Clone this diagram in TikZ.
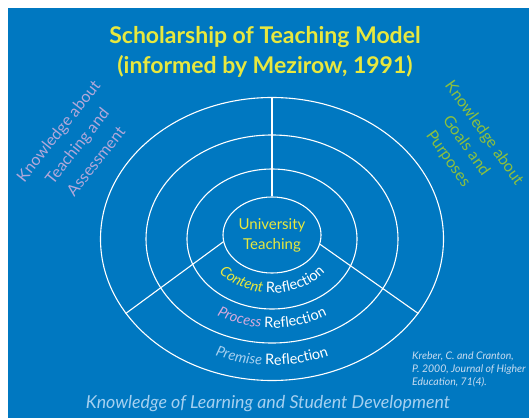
\documentclass[tikz,border=0pt]{standalone}
\usepackage{fontspec}
\setmainfont{Lato}
\usetikzlibrary{shapes.geometric,decorations.text}
\definecolor{slideblue}{RGB}{0,120,193}
\definecolor{titleyellow}{RGB}{232,232,62}
\definecolor{lilac}{RGB}{178,168,218}
\definecolor{leafgreen}{RGB}{140,192,62}
\definecolor{paleblue}{RGB}{165,208,240}
\definecolor{citegray}{RGB}{200,220,240}
\definecolor{processpink}{RGB}{215,170,220}
\tikzset{
  ring/.style={ellipse, draw=white, line width=1.1pt, inner sep=0pt},
  spoke/.style={draw=white, line width=1.1pt}
}

\begin{document}
\begin{tikzpicture}[x=1pt,y=1pt]
\useasboundingbox (0,0) rectangle (529,418);
\fill[slideblue] (8,0) rectangle (529,410);
\node[ring, minimum width=343pt, minimum height=283pt] (premisering) at (272,179) {};
\node[ring, minimum width=252pt, minimum height=208pt] (processring) at (272,179) {};
\node[ring, minimum width=170pt, minimum height=140pt] (contentring) at (272,179) {};
\node[ring, minimum width=98pt, minimum height=76pt] (core) at (272,183) {};
\draw[spoke] (core.90) -- (premisering.90);
\draw[spoke] (core.188) -- (premisering.207);
\draw[spoke] (core.349) -- (premisering.333);
\node[text=titleyellow, align=center, font=\fontsize{15}{20}\selectfont] (coretext) at (272,183) {University\\Teaching};
\path[decorate, decoration={text along path, text align=center,
  text={|\fontsize{14.5}{14.5}\selectfont\itshape\color{titleyellow}|Content |\fontsize{14.5}{14.5}\selectfont\color{white}|Reflection}}]
  (272,179) ++(200:67 and 54) arc[start angle=200, end angle=340, x radius=67, y radius=54];
\path[decorate, decoration={text along path, text align=center,
  text={|\fontsize{14.5}{14.5}\selectfont\itshape\color{processpink}|Process |\fontsize{14.5}{14.5}\selectfont\color{white}|Reflection}}]
  (272,179) ++(210:108 and 89) arc[start angle=210, end angle=330, x radius=108, y radius=89];
\path[decorate, decoration={text along path, text align=center,
  text={|\fontsize{14.5}{14.5}\selectfont\itshape\color{paleblue}|Premise |\fontsize{14.5}{14.5}\selectfont\color{white}|Reflection}}]
  (272,179) ++(220:149 and 126) arc[start angle=220, end angle=320, x radius=149, y radius=126];
\node[text=titleyellow, align=center, font=\bfseries\fontsize{23}{30.5}\selectfont] (title) at (265,366) {Scholarship of Teaching Model\\(informed by Mezirow, 1991)};
\node[text=lilac, align=center, rotate=51.5, font=\fontsize{16}{24}\selectfont] (teachlabel) at (77,272) {Knowledge about\\Teaching and\\Assessment};
\node[text=leafgreen, align=center, rotate=-54.6, font=\fontsize{16}{22}\selectfont] (goallabel) at (466,272) {Knowledge about\\Goals and\\Purposes};
\node[text=paleblue, font=\itshape\fontsize{17.8}{20}\selectfont] (learnlabel) at (268,14) {Knowledge of Learning and Student Development};
\node[text=citegray, align=left, anchor=north west, inner sep=0pt, font=\itshape\fontsize{10.5}{13}\selectfont] (citation) at (412,66) {Kreber, C. and Cranton,\\P. 2000, Journal of Higher\\Education, 71(4).};
\end{tikzpicture}
\end{document}
